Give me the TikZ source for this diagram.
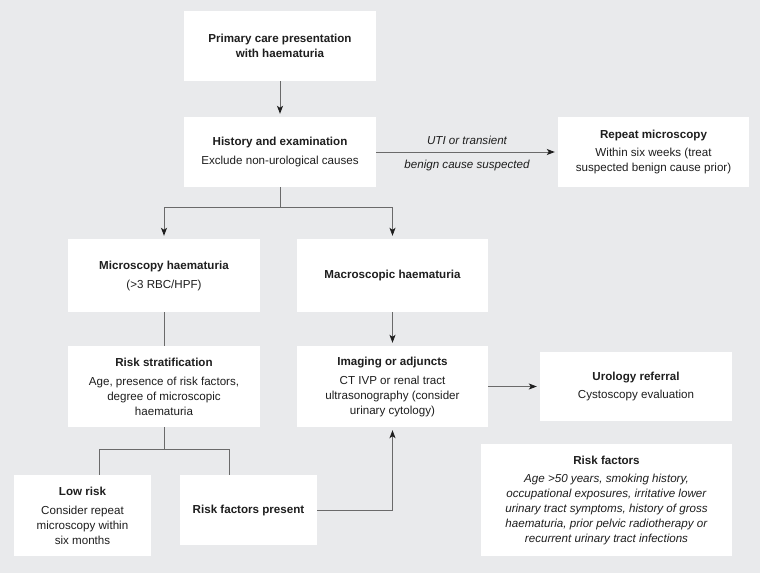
\documentclass[tikz,border=0pt]{standalone}
\usepackage{fontspec}
\setmainfont{Liberation Sans}
\usetikzlibrary{positioning}
\usetikzlibrary{arrows.meta}
\definecolor{bgColor}{HTML}{E9EAEC}
\definecolor{lineColor}{HTML}{6A6A6A}
\definecolor{textColor}{HTML}{1E1E1E}

\begin{document}
\begin{tikzpicture}[x=1pt,y=-1pt]

          \tikzstyle{box} = [fill=white, text=textColor, align=center, inner sep=0pt, font=\fontsize{11.6}{15}\selectfont];
          \tikzstyle{stdBox} = [box, minimum width=192pt, minimum height=70pt];
          \tikzstyle{tallBox} = [box, minimum width=192pt, minimum height=81pt];
          \tikzstyle{smallBox} = [box, minimum width=137pt];
          \tikzstyle{link} = [draw=lineColor, line width=0.9pt];
          \tikzstyle{arrowLink} = [link, -{Stealth[length=8pt,width=6pt,inset=2pt,color=textColor]}, shorten >=3pt];
          \tikzstyle{caseLabel} = [text=textColor, font=\fontsize{11.6}{14}\selectfont\itshape];

          \fill[bgColor] (0,0) rectangle (760,573);

          \node[stdBox] (prim) at (280,46) {\textbf{Primary care presentation}\\\textbf{with haematuria}};
          \node[stdBox] (hist) at (280,152) {\textbf{History and examination}\\[4pt]Exclude non-urological causes};
          \node[stdBox, minimum width=191pt] (rep) at (653.5,152) {\textbf{Repeat microscopy}\\[3pt]Within six weeks (treat\\suspected benign cause prior)};
          \node[stdBox, minimum height=73pt] (micro) at (164,275.5) {\textbf{Microscopy haematuria}\\[4pt](>3 RBC/HPF)};
          \node[stdBox, minimum width=191pt, minimum height=73pt] (macro) at (392.5,275.5) {\textbf{Macroscopic haematuria}};
          \node[tallBox] (strat) at (164,386.5) {\textbf{Risk stratification}\\[4pt]Age, presence of risk factors,\\degree of microscopic\\haematuria};
          \node[tallBox, minimum width=191pt] (imag) at (392.5,386.5) {\textbf{Imaging or adjuncts}\\[4pt]CT IVP or renal tract\\ultrasonography (consider\\urinary cytology)};
          \node[stdBox, minimum height=69pt] (uro) at (636,386.5) {\textbf{Urology referral}\\[3pt]Cystoscopy evaluation};
          \node[smallBox, minimum height=81pt] (low) at (82.5,515.5) {\textbf{Low risk}\\[4pt]Consider repeat\\microscopy within\\six months};
          \node[smallBox, minimum height=70pt] (rfp) at (248.5,510) {\textbf{Risk factors present}};
          \node[box, minimum width=251pt, minimum height=112pt] (rf) at (606.5,500) {\textbf{Risk factors}\\[3pt]\textit{Age >50 years, smoking history,}\\\textit{occupational exposures, irritative lower}\\\textit{urinary tract symptoms, history of gross}\\\textit{haematuria, prior pelvic radiotherapy or}\\\textit{recurrent urinary tract infections}};

          \coordinate (lowTop) at (99,475);
          \coordinate (rfpTop) at (229,475);

          \draw[arrowLink] (prim) -- (hist);
          \draw[arrowLink] (hist) -- node[caseLabel, above=4pt] {UTI or transient} node[caseLabel, below=4pt] {benign cause suspected} (rep);
          \draw[arrowLink] (hist.south) -- ++(0,20) -| (micro.north);
          \draw[arrowLink] (hist.south) -- ++(0,20) -| (macro.north);
          \draw[link] (micro) -- (strat);
          \draw[arrowLink] (macro) -- (imag);
          \draw[arrowLink] (imag) -- (uro);
          \draw[link] (strat.south) -- ++(0,22) -| (lowTop);
          \draw[link] (strat.south) -- ++(0,22) -| (rfpTop);
          \draw[arrowLink] (rfp.east) -| (imag.south);
        \end{tikzpicture}
\end{document}
